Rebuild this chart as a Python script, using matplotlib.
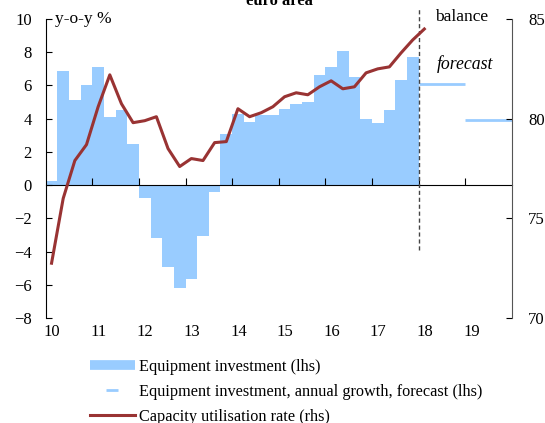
import matplotlib
matplotlib.use('Agg')
import matplotlib.pyplot as plt
import matplotlib.transforms as mtransforms
from matplotlib.lines import Line2D
import numpy as np

plt.rcParams['font.family'] = ['Liberation Serif', 'DejaVu Serif']

# data: quarterly, 2010Q1 - 2017Q4 (equipment investment, y-o-y %)
equip_invest = [0.25, 6.9, 5.1, 6.0, 7.1, 4.1, 4.5, 2.5,
                -0.75, -3.2, -4.95, -6.2, -5.65, -3.05, -0.4, 3.05,
                4.3, 3.8, 4.2, 4.2, 4.6, 4.9, 5.0, 6.65,
                7.1, 8.1, 6.5, 4.0, 3.75, 4.55, 6.3, 7.7]
# 2010Q1 - 2018Q1 (capacity utilisation rate, balance)
capacity_util = [72.75, 76.0, 77.9, 78.7, 80.6, 82.2, 80.75, 79.8,
                 79.9, 80.1, 78.5, 77.6, 78.0, 77.9, 78.8, 78.85,
                 80.5, 80.1, 80.3, 80.6, 81.1, 81.3, 81.2, 81.6,
                 81.9, 81.5, 81.6, 82.3, 82.5, 82.6, 83.3, 83.95, 84.5]
forecast_years = [2018, 2019]
forecast_growth = [6.1, 3.9]
year_labels = ['10', '11', '12', '13', '14', '15', '16', '17', '18', '19']

light_blue = '#99CCFF'
dark_red = '#993333'

fig = plt.figure(figsize=(5.45, 4.23), dpi=100)
ax = fig.add_axes([0.0839, 0.2482, 0.8550, 0.7068])

q_start = 2010 + 0.25 * np.arange(len(equip_invest))
ax.bar(q_start, equip_invest, width=0.25, align='edge', color=light_blue,
       linewidth=0, zorder=1)
for yr, val in zip(forecast_years, forecast_growth):
    ax.plot([yr, yr + 1], [val, val], color=light_blue, lw=2, zorder=2,
            solid_capstyle='butt')

ax.set_xlim(2010, 2020)
ax.set_ylim(-8, 10)
ax.set_yticks(np.arange(-8, 11, 2))
ax.tick_params(axis='y', direction='in', length=4, pad=10, labelsize=12)

# x axis at zero with ticks pointing up, labels at bottom
ax.spines['bottom'].set_position(('data', 0))
ax.spines['top'].set_visible(False)
ax.spines['right'].set_visible(False)
ax.set_xticks(np.arange(2011, 2020))
ax.tick_params(axis='x', direction='in', length=5, labelbottom=False)
sec = ax.secondary_xaxis(location=0)
sec.set_xticks(np.arange(2010, 2020), year_labels)
sec.tick_params(length=0, pad=4, labelsize=12)
sec.spines['bottom'].set_visible(False)
offset = mtransforms.ScaledTranslation(-2 / 100, 0, fig.dpi_scale_trans)
for lab in sec.get_xticklabels():
    lab.set_ha('left')
    lab.set_transform(lab.get_transform() + offset)

# forecast start
ax.plot([2018, 2018], [-3.9, 10.6], color='#444444', lw=1, ls=(0, (3, 2)),
        clip_on=False, zorder=3)

ax2 = ax.twinx()
q_mid = 2010.125 + 0.25 * np.arange(len(capacity_util))
ax2.plot(q_mid, capacity_util, color=dark_red, lw=2.2, zorder=4)
ax2.set_ylim(70, 85)
ax2.set_yticks([70, 75, 80, 85])
ax2.tick_params(axis='y', direction='in', length=4, pad=12, labelsize=12)
ax2.spines['top'].set_visible(False)
ax2.spines['left'].set_visible(False)
ax2.spines['bottom'].set_visible(False)
ax2.spines['right'].set_color('#555555')

ax.text(2010.2, 10, 'y-o-y %', fontsize=12.5, va='center', ha='left')
ax.text(2018.35, 10.1, 'balance', fontsize=12.5, va='center', ha='left')
ax.text(2018.4, 7.3, 'forecast', fontsize=12.8, style='italic', va='center', ha='left')

fig.text(0.512, 0.988, 'euro area', fontsize=12, fontweight='bold',
         ha='center', va='baseline')

handles = [Line2D([], [], color=light_blue, lw=7, solid_capstyle='butt'),
           Line2D([], [], ls='none', marker='_', markersize=8, mew=2, color=light_blue),
           Line2D([], [], color=dark_red, lw=2.2)]
labels = ['Equipment investment (lhs)',
          'Equipment investment, annual growth, forecast (lhs)',
          'Capacity utilisation rate (rhs)']
fig.legend(handles, labels, loc='upper left', bbox_to_anchor=(90 / 545, 1 - 359 / 423),
           frameon=False, fontsize=11.7, handlelength=2.75, handletextpad=0.25,
           labelspacing=0.55, borderpad=0, borderaxespad=0)

fig.savefig('out.png', dpi=100)
